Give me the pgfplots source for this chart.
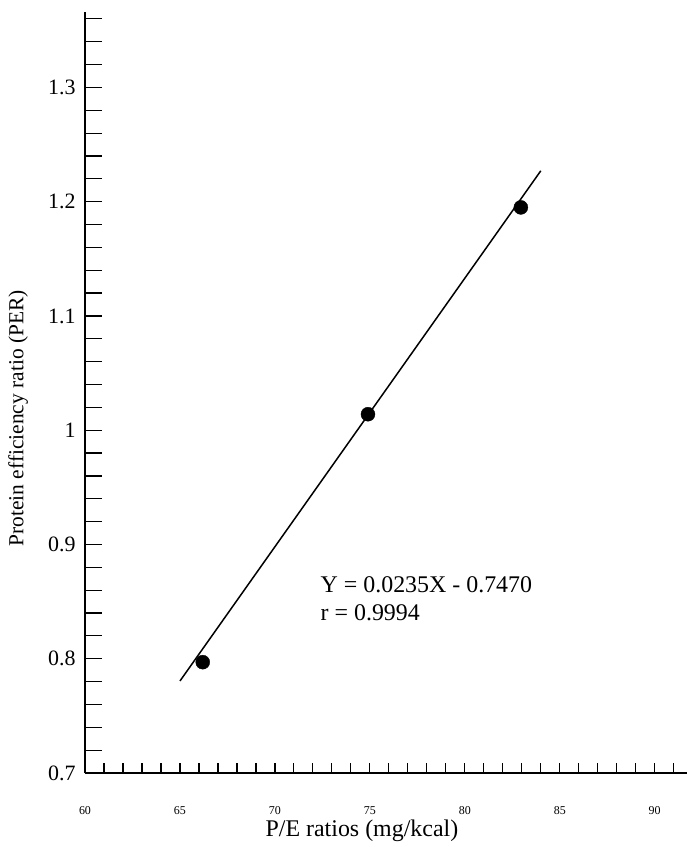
\documentclass[border=0pt]{standalone}
\usepackage{pgfplots}
\pgfplotsset{compat=1.18}
\usepackage{fontspec}
\setmainfont{Liberation Serif}
\begin{document}
\begin{tikzpicture}
\path[use as bounding box] (-85bp,-74bp) rectangle (602bp,773bp);
% main axis: y ticks, labels
\begin{axis}[
  at={(0,0)}, anchor=south west,
  scale only axis, width=602bp, height=761bp,
  xmin=60, xmax=91.7, ymin=0.7, ymax=1.366,
  axis lines=left, axis line style={-, line width=1.6bp},
  /pgf/number format/assume math mode=true,
  xtick={60,65,70,75,80,85,90},
  x tick style={draw=none},
  ytick={0.7,0.8,0.9,1.0,1.1,1.2,1.3},
  minor ytick={0.72,0.74,0.76,0.78,0.82,0.84,0.86,0.88,0.92,0.94,0.96,0.98,1.02,1.04,1.06,1.08,1.12,1.14,1.16,1.18,1.22,1.24,1.26,1.28,1.32,1.34,1.36},
  y tick style={line width=1.2bp, black},
  tick align=inside,
  major tick length=17bp, minor tick length=17bp,
  y tick label style={font=\fontsize{22}{22}\selectfont, xshift=-6bp},
  x tick label style={font=\fontsize{12}{12}\selectfont, yshift=-30bp},
  xlabel={P/E ratios (mg/kcal)},
  x label style={at={(axis description cs:0.46,-0.084)}, anchor=base, inner sep=0pt, font=\fontsize{24}{24}\selectfont},
  ylabel={Protein efficiency ratio (PER)},
  y label style={at={(axis description cs:-0.111,0.466)}, anchor=center, font=\fontsize{21.5}{21.5}\selectfont},
  clip=false,
]
\addplot[black, line width=1.5bp] coordinates {(65,0.7805) (84,1.227)};
\addplot[only marks, mark=*, mark size=7bp, black] coordinates {(66.2,0.797) (74.9,1.014) (82.95,1.195)};
\node[anchor=north west, inner sep=0pt, align=left, font=\fontsize{24}{28}\selectfont] at (axis cs:72.4,0.872) {Y = 0.0235X - 0.7470\\r = 0.9994};
\end{axis}
% overlay axis for short x ticks
\begin{axis}[
  at={(0,0)}, anchor=south west,
  scale only axis, width=602bp, height=761bp,
  xmin=60, xmax=91.7, ymin=0.7, ymax=1.366,
  axis x line=bottom, axis y line=none, axis line style={-, line width=1.6bp},
  xtick={60,65,70,75,80,85,90}, xticklabels={},
  minor xtick={61,62,...,91},
  ytick=\empty,
  x tick style={line width=1.2bp, black},
  tick align=inside,
  major tick length=10bp, minor tick length=10bp,
]
\end{axis}
\end{tikzpicture}
\end{document}
